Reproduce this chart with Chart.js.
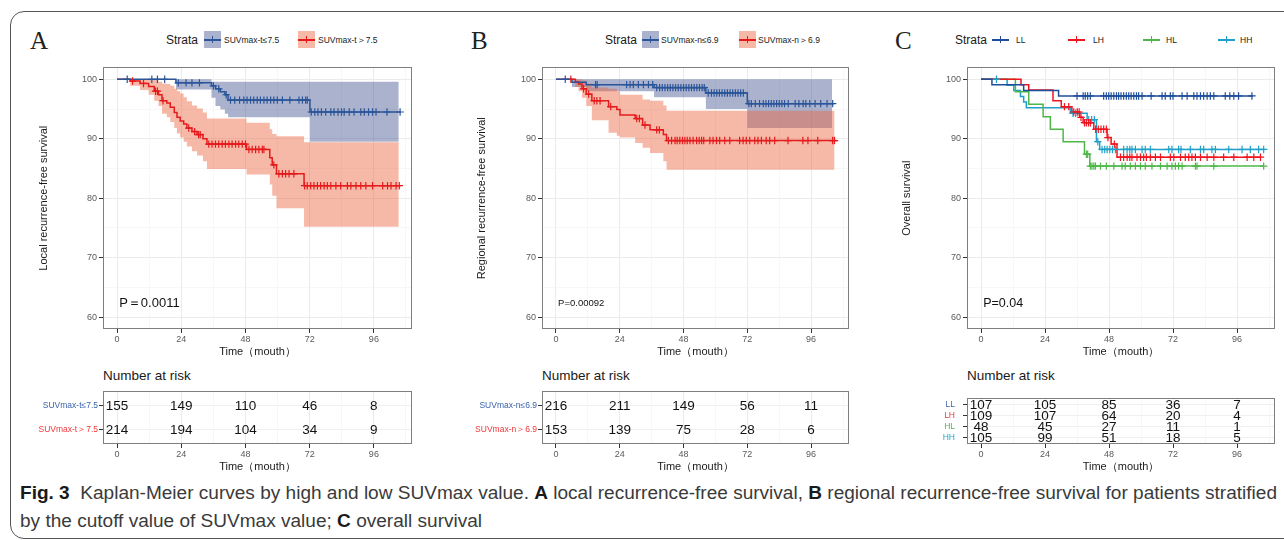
<!DOCTYPE html>
<html>
<head>
<meta charset="utf-8">
<script src="https://cdn.jsdelivr.net/npm/chart.js@4.4.1/dist/chart.umd.min.js"></script>
<style>
body { margin: 0; width: 1284px; height: 540px; position: relative; overflow: hidden; background: #fff; font-family: "Liberation Sans", Arial, sans-serif; color: #1a1a1a; }
.frame { position: absolute; left: 10px; top: 11px; width: 1320px; height: 528px; box-sizing: border-box; border: 1.5px solid #555; border-radius: 14px; }
canvas { position: absolute; }
.t { position: absolute; white-space: nowrap; line-height: 1; transform: translateY(-50%); }
.letter { font-family: "Liberation Serif", "DejaVu Serif", serif; font-size: 25px; color: #222; }
.strata { font-size: 12px; }
.lab { font-size: 8.5px; color: #1a1a1a; }
.nrisk { font-size: 13.5px; }
.key { position: absolute; width: 17px; height: 17px; top: 31px; }
.key b { position: absolute; left: 0; right: 0; top: 8px; height: 1.5px; }
.key s { position: absolute; left: 7.7px; top: 5px; width: 1.5px; height: 7px; }
.cap { position: absolute; left: 20px; white-space: nowrap; font-family: "Liberation Sans", Arial, sans-serif; font-size: 17.5px; line-height: 20px; color: #3a3a3a; transform-origin: 0 50%; }
.cap b { color: #1a1a1a; }
</style>
</head>
<body>
<div class="frame"></div>

<span class="t letter" style="left:30px;top:40px">A</span>
<span class="t strata" style="left:166px;top:40px">Strata</span>
<div class="key" style="left:204px;background:rgba(44,62,130,0.4)"><b style="background:#2A5599"></b><s style="background:#2A5599"></s></div>
<span class="t lab" style="left:224px;top:40px">SUVmax-t≤7.5</span>
<div class="key" style="left:298px;background:rgba(236,100,60,0.45)"><b style="background:#E41A1C"></b><s style="background:#E41A1C"></s></div>
<span class="t lab" style="left:318px;top:40px">SUVmax-t＞7.5</span>

<span class="t letter" style="left:471px;top:40px">B</span>
<span class="t strata" style="left:605px;top:40px">Strata</span>
<div class="key" style="left:642px;background:rgba(44,62,130,0.4)"><b style="background:#2A5599"></b><s style="background:#2A5599"></s></div>
<span class="t lab" style="left:661px;top:40px">SUVmax-n≤6.9</span>
<div class="key" style="left:739px;background:rgba(236,100,60,0.45)"><b style="background:#E41A1C"></b><s style="background:#E41A1C"></s></div>
<span class="t lab" style="left:758px;top:40px">SUVmax-n＞6.9</span>

<span class="t letter" style="left:895px;top:40px">C</span>
<span class="t strata" style="left:955px;top:40px">Strata</span>
<div class="key" style="left:992px"><b style="background:#1F4E9A"></b><s style="background:#1F4E9A"></s></div>
<span class="t lab" style="left:1016px;top:40px">LL</span>
<div class="key" style="left:1068px"><b style="background:#F0141E"></b><s style="background:#F0141E"></s></div>
<span class="t lab" style="left:1093px;top:40px">LH</span>
<div class="key" style="left:1143px"><b style="background:#4DB848"></b><s style="background:#4DB848"></s></div>
<span class="t lab" style="left:1166px;top:40px">HL</span>
<div class="key" style="left:1218px"><b style="background:#1FA0C8"></b><s style="background:#1FA0C8"></s></div>
<span class="t lab" style="left:1240px;top:40px">HH</span>

<canvas id="kmA" width="400" height="305" style="left:20px;top:60px"></canvas>
<canvas id="kmB" width="400" height="305" style="left:458px;top:60px"></canvas>
<canvas id="kmC" width="400" height="305" style="left:884px;top:60px"></canvas>

<span class="t nrisk" style="left:103px;top:376px">Number at risk</span>
<span class="t nrisk" style="left:542px;top:376px">Number at risk</span>
<span class="t nrisk" style="left:967px;top:376px">Number at risk</span>

<canvas id="rkA" width="400" height="92" style="left:20px;top:385px"></canvas>
<canvas id="rkB" width="400" height="92" style="left:458px;top:385px"></canvas>
<canvas id="rkC" width="400" height="92" style="left:884px;top:385px"></canvas>

<div class="cap" id="cap1" style="top:483px"><b>Fig. 3</b>&nbsp; Kaplan-Meier curves by high and low SUVmax value. <b>A</b> local recurrence-free survival, <b>B</b> regional recurrence-free survival for patients stratified</div>
<div class="cap" id="cap2" style="top:511px">by the cutoff value of SUVmax value; <b>C</b> overall survival</div>

<script>
Chart.defaults.font.family = '"Liberation Sans", Arial, sans-serif';
Chart.defaults.color = '#5a5a5a';

// 坐标轴刻度
const xGridTicks = [0, 12, 24, 36, 48, 60, 72, 84, 96, 108];
const yGridTicks = [60, 65, 70, 75, 80, 85, 90, 95, 100];
const riskTimes = [0, 24, 48, 72, 96];

// A: local recurrence-free survival
const aLowTimes = [22, 35.3, 36.8, 38.6, 40.3, 41.5, 72.1];
const aLowSurv = [99.4, 98.9, 98.4, 97.9, 97.4, 96.5, 94.5];
const aLowUpper = [100, 99.6, 99.6, 99.6, 99.6, 99.6, 99.6];
const aLowLower = [98.3, 96.9, 95.5, 94.9, 94.2, 93.6, 89.5];
const aLowCensor = [3.8, 13.0, 15.1, 17.8, 22.9, 25.8, 28.0, 30.8, 36.0, 38.0, 40.8, 42.4, 44.0, 45.8, 47.4, 48.6, 49.9, 51.1, 52.4, 53.6, 54.9, 56.1, 57.4, 58.6, 59.9, 61.8, 64.6, 68.0, 69.3, 70.5, 71.1, 72.6, 73.9, 75.1, 76.4, 78.0, 79.9, 81.1, 82.6, 83.9, 84.9, 86.8, 88.6, 91.1, 92.4, 94.0, 95.5, 96.8, 100.9, 105.8];

const aHighTimes = [4.9, 8.6, 11.8, 13.9, 15.5, 16.8, 18.6, 19.9, 21.4, 22.4, 23.6, 24.9, 26.1, 28, 29.9, 32.1, 33.6, 48.4, 57.1, 58, 59.6, 69.9];
const aHighSurv = [99.7, 99.3, 98.8, 98.0, 97.4, 96.4, 96.0, 95.3, 94.4, 93.6, 93.0, 92.5, 91.8, 91.2, 90.7, 90.0, 89.1, 88.2, 86.8, 85.6, 84.1, 82.1];
const aHighUpper = [100, 100, 100, 99.9, 99.6, 99.3, 99.2, 98.9, 98.4, 98.0, 97.6, 97.0, 96.3, 95.6, 95.1, 94.4, 93.4, 92.7, 91.6, 90.8, 90.4, 89.4];
const aHighLower = [98.9, 98.2, 97.4, 96.4, 95.5, 94.2, 93.6, 92.8, 91.8, 90.9, 90.2, 89.5, 88.7, 87.9, 87.2, 86.2, 84.9, 84.0, 82.3, 80.4, 78.3, 75.2];
const aHighCensor = [5.8, 9.9, 14.4, 15.1, 17.2, 26.8, 29.0, 30.5, 31.1, 34.3, 35.5, 36.8, 38.0, 39.3, 40.5, 41.8, 43.0, 44.3, 45.5, 46.8, 48.0, 49.3, 50.5, 51.8, 53.0, 54.3, 54.9, 58.6, 60.5, 61.8, 63.0, 64.3, 66.1, 70.1, 71.1, 72.4, 73.6, 74.9, 76.1, 77.4, 78.6, 79.9, 81.8, 83.6, 86.1, 87.4, 89.3, 91.1, 93.0, 95.5, 99.3, 101.1, 102.4, 104.3, 105.5];

const aRiskLow = [155, 149, 110, 46, 8];
const aRiskHigh = [214, 194, 104, 34, 9];

// B: regional recurrence-free survival
const bLowTimes = [6.0, 11.4, 36.9, 56.4, 72.0];
const bLowSurv = [99.5, 99.1, 98.6, 97.7, 95.9];
const bLowUpper = [100, 100, 100, 100, 100];
const bLowLower = [98.7, 98.0, 97.0, 95.0, 91.8];
const bLowCensor = [3.5, 14.9, 15.5, 26.6, 27.9, 29.1, 31.0, 32.9, 34.8, 36.4, 37.9, 39.0, 40.0, 41.0, 42.0, 43.0, 44.0, 45.0, 46.0, 47.0, 48.0, 49.0, 50.0, 51.0, 52.0, 53.0, 54.0, 55.0, 55.8, 57.3, 58.5, 59.5, 60.5, 61.5, 62.5, 63.5, 64.5, 65.5, 66.5, 67.5, 68.5, 69.5, 70.5, 72.6, 73.5, 75.0, 76.6, 78.0, 79.0, 80.0, 81.0, 82.0, 83.0, 84.0, 85.0, 86.0, 87.4, 90.0, 91.4, 93.0, 94.0, 95.5, 97.5, 99.6, 102.0, 104.1];

const bHighTimes = [7.3, 8.5, 9.8, 11.4, 13.5, 19.8, 22.9, 24.1, 29.8, 32.6, 35.4, 40.4, 41.6];
const bHighSurv = [99.6, 99.2, 98.4, 97.5, 96.4, 95.4, 94.9, 94.0, 93.4, 92.3, 91.5, 90.7, 89.7];
const bHighUpper = [100, 100, 99.8, 99.3, 98.6, 98.4, 98.0, 97.4, 97.4, 96.6, 96.4, 95.6, 94.7];
const bHighLower = [98.7, 98.0, 96.9, 95.5, 93.1, 91.0, 90.5, 90.2, 89.3, 88.5, 87.6, 86.2, 84.8];
const bHighCensor = [5.6, 10.4, 12.3, 14.4, 15.4, 16.6, 20.6, 30.4, 31.4, 33.5, 37.9, 38.9, 42.3, 43.5, 44.8, 45.6, 46.6, 47.6, 48.5, 49.4, 50.4, 51.6, 52.9, 53.9, 54.8, 55.6, 57.9, 59.1, 60.4, 61.6, 63.5, 65.4, 69.1, 70.4, 71.6, 72.9, 74.8, 76.0, 77.3, 79.1, 80.4, 82.3, 87.3, 92.9, 94.8, 98.5, 104.1, 104.8];

const bRiskLow = [216, 211, 149, 56, 11];
const bRiskHigh = [153, 139, 75, 28, 6];

// C: overall survival
const cLLTimes = [4.1, 16.0, 29.1];
const cLLSurv = [99.1, 98.1, 97.2];
const cLLCensor = [36.0, 38.3, 39.1, 40.0, 41.0, 46.0, 47.0, 47.9, 48.8, 49.8, 50.8, 51.6, 52.5, 53.5, 54.5, 55.4, 56.3, 57.3, 58.3, 59.1, 60.4, 63.8, 67.9, 69.1, 71.0, 72.0, 75.4, 77.3, 79.8, 81.0, 82.3, 83.5, 84.8, 86.0, 87.3, 91.6, 93.3, 94.8, 96.6, 101.6];

const cLHTimes = [15.0, 17.9, 27.0, 30.1, 34.1, 37.0, 38.3, 42.3, 47.3, 48.8, 51.0];
const cLHSurv = [99.1, 98.2, 96.4, 95.4, 94.5, 93.6, 92.7, 91.6, 90.2, 89.1, 86.9];
const cLHCensor = [31.3, 32.9, 34.8, 36.1, 36.8, 37.5, 38.8, 39.5, 40.3, 41.0, 43.0, 44.0, 45.0, 46.0, 47.0, 47.6, 50.0, 52.3, 53.5, 54.8, 55.8, 56.6, 58.5, 59.8, 61.0, 62.0, 63.5, 65.4, 67.3, 71.0, 72.3, 74.8, 76.6, 77.9, 79.1, 80.4, 82.3, 84.8, 87.3, 91.0, 94.8, 99.8, 102.3, 104.8];

const cHLTimes = [12.9, 17.9, 23.3, 26.0, 30.8, 38.8, 40.8];
const cHLSurv = [97.9, 95.8, 93.7, 91.6, 89.5, 87.4, 85.4];
const cHLCensor = [39.5, 40.0, 41.0, 41.6, 42.3, 42.9, 44.8, 47.0, 49.8, 52.9, 54.1, 56.0, 57.9, 59.8, 61.6, 64.1, 67.3, 69.8, 71.6, 72.9, 74.1, 75.4, 80.4, 81.0, 87.3, 106.0];

const cHHTimes = [9.8, 12.3, 14.8, 16.0, 17.0, 33.5, 39.8, 43.3, 44.5];
const cHHSurv = [99.0, 98.1, 97.1, 96.2, 95.2, 94.3, 93.2, 89.5, 88.2];
const cHHCensor = [5.8, 34.5, 35.5, 40.4, 41.5, 42.5, 43.8, 45.4, 46.4, 47.3, 48.3, 49.3, 50.4, 53.5, 54.8, 55.8, 56.6, 57.9, 60.4, 61.6, 63.5, 70.4, 71.6, 74.1, 75.0, 78.5, 82.3, 83.5, 86.6, 87.9, 92.9, 97.9, 101.0, 104.1, 106.0];

const cRiskLL = [107, 105, 85, 36, 7];
const cRiskLH = [109, 107, 64, 20, 4];
const cRiskHL = [48, 45, 27, 11, 1];
const cRiskHH = [105, 99, 51, 18, 5];

const BLUE = '#2A5599', RED = '#E41A1C';
const BLUE_BAND = 'rgba(44,62,130,0.4)', RED_BAND = 'rgba(236,100,60,0.45)';

function survAt(times, surv, t) {
    let s = 100;
    for (let i = 0; i < times.length; i++) {
        if (times[i] <= t) s = surv[i];
    }
    return s;
}

function stepData(times, vals, end) {
    const pts = [{ x: 0, y: 100 }];
    times.forEach((t, i) => pts.push({ x: t, y: vals[i] }));
    pts.push({ x: end, y: vals[vals.length - 1] });
    return pts;
}

function kmDatasets(curves) {
    const marks = [], lines = [], bands = [];
    curves.forEach(c => {
        marks.push({
            data: c.censor.map(t => ({ x: t, y: survAt(c.times, c.surv, t) })),
            showLine: false, pointStyle: 'cross', pointRadius: 3.7, pointHoverRadius: 3.7,
            borderColor: c.color, pointBorderColor: c.color, pointBorderWidth: 1.2
        });
        lines.push({
            data: stepData(c.times, c.surv, c.end),
            stepped: true, borderColor: c.color, borderWidth: 1.5, pointRadius: 0, fill: false
        });
    });
    // 后一组的置信带画在上层
    curves.slice().reverse().forEach(c => {
        if (!c.upper) return;
        bands.push({ data: stepData(c.times, c.upper, c.bandEnd), stepped: true, borderColor: 'transparent', borderWidth: 0, pointRadius: 0, fill: '+1', backgroundColor: c.band });
        bands.push({ data: stepData(c.times, c.lower, c.bandEnd), stepped: true, borderColor: 'transparent', borderWidth: 0, pointRadius: 0, fill: false });
    });
    return marks.concat(lines, bands);
}

const panelBorder = {
    id: 'panelBorder',
    afterDatasetsDraw(chart) {
        const a = chart.chartArea, c = chart.ctx;
        c.save();
        c.strokeStyle = '#7f7f7f';
        c.lineWidth = 1;
        c.strokeRect(Math.round(a.left) + 0.5, Math.round(a.top) + 0.5, Math.round(a.width) - 1, Math.round(a.height) - 1);
        c.restore();
    }
};

const pLabel = {
    id: 'pLabel',
    afterDatasetsDraw(chart, args, opts) {
        if (!opts.text) return;
        const c = chart.ctx;
        c.save();
        c.fillStyle = '#111';
        c.font = opts.size + 'px "Liberation Sans", Arial, sans-serif';
        c.textAlign = 'left';
        c.textBaseline = 'middle';
        c.fillText(opts.text, chart.scales.x.getPixelForValue(opts.x), chart.scales.y.getPixelForValue(opts.y));
        c.restore();
    }
};

const riskNumbers = {
    id: 'riskNumbers',
    afterDatasetsDraw(chart) {
        const c = chart.ctx;
        c.save();
        c.fillStyle = '#111';
        c.font = '13.5px "Liberation Sans", Arial, sans-serif';
        c.textAlign = 'center';
        c.textBaseline = 'middle';
        chart.data.datasets.forEach((ds, i) => {
            chart.getDatasetMeta(i).data.forEach((el, j) => c.fillText(String(ds.data[j].n), el.x, el.y + 0.5));
        });
        c.restore();
    }
};

function xScale(height, titlePad, titleDisplay) {
    return {
        type: 'linear', min: -5.25, max: 110.25,
        afterBuildTicks: s => { s.ticks = xGridTicks.map(v => ({ value: v })); },
        afterFit: s => { s.height = height; },
        border: { display: false },
        grid: {
            color: c => c.tick && c.tick.value % 24 === 0 ? '#ebebeb' : '#f3f3f3',
            lineWidth: c => c.tick && c.tick.value % 24 === 0 ? 1 : 0.7,
            tickColor: c => c.tick && c.tick.value % 24 === 0 ? '#333' : 'rgba(0,0,0,0)',
            tickLength: 4
        },
        ticks: { autoSkip: false, maxRotation: 0, padding: 1.5, color: '#5a5a5a', font: { size: 9 }, callback: v => v % 24 === 0 ? String(v) : '' },
        title: { display: titleDisplay, text: 'Time（mouth）', color: '#1a1a1a', font: { size: 11 }, padding: { top: 0, bottom: titlePad } }
    };
}

function kmChart(id, curves, opts) {
    return new Chart(document.getElementById(id), {
        type: 'line',
        data: { datasets: kmDatasets(curves) },
        options: {
            responsive: false, animation: false, events: [],
            layout: { padding: { top: 6, right: opts.padRight, left: 0, bottom: 0 } },
            plugins: {
                legend: { display: false }, tooltip: { enabled: false },
                pLabel: { text: opts.pText, size: opts.pSize, x: 0.8, y: 62.3 }
            },
            scales: {
                x: xScale(36, 6.4, true),
                y: {
                    type: 'linear', min: 58, max: 102,
                    afterBuildTicks: s => { s.ticks = yGridTicks.map(v => ({ value: v })); },
                    afterFit: s => { s.width = opts.yWidth; },
                    border: { display: false },
                    grid: {
                        color: c => c.tick && c.tick.value % 10 === 0 ? '#ebebeb' : '#f3f3f3',
                        lineWidth: c => c.tick && c.tick.value % 10 === 0 ? 1 : 0.7,
                        tickColor: c => c.tick && c.tick.value % 10 === 0 ? '#333' : 'rgba(0,0,0,0)',
                        tickLength: 4
                    },
                    ticks: { autoSkip: false, padding: 2, color: '#5a5a5a', font: { size: 9 }, callback: v => v % 10 === 0 ? String(v) : '' },
                    title: { display: true, text: opts.yTitle, color: '#1a1a1a', font: { size: 11 }, padding: { top: opts.yTitlePad, bottom: 0 } }
                }
            }
        },
        plugins: [panelBorder, pLabel]
    });
}

function riskChart(id, names, colors, rows, opts) {
    const n = rows.length;
    return new Chart(document.getElementById(id), {
        type: 'line',
        data: {
            datasets: rows.map((row, i) => ({
                data: riskTimes.map((t, j) => ({ x: t, y: i + 1, n: row[j] })),
                showLine: false, pointRadius: 0, pointHoverRadius: 0
            }))
        },
        options: {
            responsive: false, animation: false, events: [],
            layout: { padding: { top: opts.padTop, right: opts.padRight, left: 0, bottom: 0 } },
            plugins: { legend: { display: false }, tooltip: { enabled: false } },
            scales: {
                x: xScale(33, 3, true),
                y: {
                    type: 'linear', min: 0.4, max: n + 0.6, reverse: true,
                    afterBuildTicks: s => { s.ticks = rows.map((r, i) => ({ value: i + 1 })); },
                    afterFit: s => { s.width = opts.yWidth; },
                    border: { display: false },
                    grid: { color: '#f0f0f0', tickColor: '#333', tickLength: 4 },
                    ticks: {
                        autoSkip: false, padding: opts.labelPad, font: { size: 8.5 },
                        color: c => colors[c.index],
                        callback: v => names[Math.round(v) - 1]
                    }
                }
            }
        },
        plugins: [panelBorder, riskNumbers]
    });
}

kmChart('kmA', [
    { color: BLUE, band: BLUE_BAND, times: aLowTimes, surv: aLowSurv, upper: aLowUpper, lower: aLowLower, censor: aLowCensor, end: 106, bandEnd: 105.3 },
    { color: RED, band: RED_BAND, times: aHighTimes, surv: aHighSurv, upper: aHighUpper, lower: aHighLower, censor: aHighCensor, end: 106, bandEnd: 105.3 }
], { padRight: 8, yWidth: 83, yTitlePad: 17.5, yTitle: 'Local recurrence-free survival', pText: 'P＝0.0011', pSize: 13 });

kmChart('kmB', [
    { color: BLUE, band: BLUE_BAND, times: bLowTimes, surv: bLowSurv, upper: bLowUpper, lower: bLowLower, censor: bLowCensor, end: 104.6, bandEnd: 103.9 },
    { color: RED, band: RED_BAND, times: bHighTimes, surv: bHighSurv, upper: bHighUpper, lower: bHighLower, censor: bHighCensor, end: 105.6, bandEnd: 104.8 }
], { padRight: 9, yWidth: 84, yTitlePad: 17, yTitle: 'Regional recurrence-free survival', pText: 'P=0.00092', pSize: 9.5 });

kmChart('kmC', [
    { color: '#1F4E9A', times: cLLTimes, surv: cLLSurv, censor: cLLCensor, end: 102 },
    { color: '#F0141E', times: cLHTimes, surv: cLHSurv, censor: cLHCensor, end: 105.1 },
    { color: '#4DB848', times: cHLTimes, surv: cHLSurv, censor: cHLCensor, end: 106 },
    { color: '#1FA0C8', times: cHHTimes, surv: cHHSurv, censor: cHHCensor, end: 106.3 }
], { padRight: 9, yWidth: 83, yTitlePad: 16, yTitle: 'Overall survival', pText: 'P=0.04', pSize: 12.5 });

riskChart('rkA', ['SUVmax-t≤7.5', 'SUVmax-t＞7.5'], ['#3B64AD', '#F2383A'], [aRiskLow, aRiskHigh], { padTop: 5, padRight: 8, yWidth: 83, labelPad: 1 });
riskChart('rkB', ['SUVmax-n≤6.9', 'SUVmax-n＞6.9'], ['#3B64AD', '#F2383A'], [bRiskLow, bRiskHigh], { padTop: 5, padRight: 9, yWidth: 84, labelPad: 1 });
riskChart('rkC', ['LL', 'LH', 'HL', 'HH'], ['#3B64AD', '#F2383A', '#4DB848', '#1FA8D0'], [cRiskLL, cRiskLH, cRiskHL, cRiskHH], { padTop: 4, padRight: 9, yWidth: 83, labelPad: 8 });

// 图注宽度适配
const cap1 = document.getElementById('cap1'), cap2 = document.getElementById('cap2');
const k = 1257 / cap1.getBoundingClientRect().width;
cap1.style.transform = 'scaleX(' + k + ')';
cap2.style.transform = 'scaleX(' + k + ')';
</script>
</body>
</html>
